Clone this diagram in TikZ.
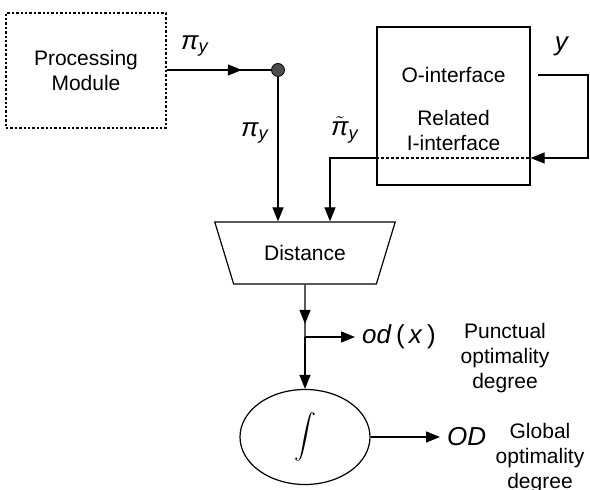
\documentclass[tikz,border=0pt]{standalone}
\usepackage{amsmath}
\usepackage{fontspec}
\setmainfont{Liberation Sans}
\usetikzlibrary{
  arrows.meta,
  shapes.geometric,
  positioning,
  calc,
  decorations.markings
}
\tikzset{
  blk/.style={
    draw, line width=0.6pt, font=\fontsize{10.5}{12.5}\selectfont,
    align=center, inner sep=0pt
  },
  pmbox/.style={blk, dash pattern=on 1.2pt off 1pt, minimum width=80pt, minimum height=57.5pt},
  ifbox/.style={blk, minimum width=76.5pt, minimum height=79pt},
  distnode/.style={blk, trapezium, shape border rotate=180, trapezium angle=55,
    trapezium stretches=true, minimum width=90.5pt, minimum height=31pt},
  integnode/.style={blk, ellipse, minimum width=65pt, minimum height=47.5pt},
  junction/.style={circle, draw, fill=black!70, inner sep=0pt, minimum size=6.5pt},
  conn/.style={line width=0.6pt},
  tip/.style={-{Triangle[length=7pt, width=5.5pt]}},
  midtip/.style={postaction={decorate}, decoration={markings,
    mark=at position #1 with {\arrow{Triangle[length=7pt, width=5.5pt]}}}},
  sym/.style={font=\fontsize{13}{15}\selectfont},
  note/.style={font=\fontsize{10.5}{12.5}\selectfont, align=center}
}
\begin{document}
\begin{tikzpicture}[x=0.5pt, y=-0.5pt]
  \useasboundingbox (0,0) rectangle (590,490);
  % blocks
  \node[pmbox] (pm) at (86,70.5) {Processing\\Module};
  \node[junction] (dot) at (278,70) {};
  \node[ifbox] (obox) at (453.5,106) {};
  \node[note] (oint) at (453.5,75) {O-interface};
  \node[note] (rint) at (453.5,131) {Related\\I-interface};
  \node[distnode] (dist) at (305,253) {Distance};
  \node[integnode] (integ) at (305,437) {$\displaystyle\int$};
  \coordinate (tbend) at (330,158);
  \coordinate (yout) at (588,75);
  \coordinate (br) at (305,337);
  % labels
  \node[sym] (piyh) at (195,46) {$\textit{π}_{\textit{y}}$};
  \node[sym] (piyv) at (255,133) {$\textit{π}_{\textit{y}}$};
  \node[sym, inner sep=1pt] (piyt) at (345,130) {$\tilde{\textit{π}}_{\textit{y}}$};
  \node[sym] (ylbl) at (562,46) {\textit{y}};
  \node[sym, anchor=west] (od) at (355,337) {\textit{od}\,(\,\textit{x}\,)};
  \node[sym, anchor=west] (odg) at (440,437) {\textit{OD}};
  \node[note] (pnote) at (505,358) {Punctual\\optimality\\degree};
  \node[note] (gnote) at (540,458) {Global\\optimality\\degree};
  % connectors
  \draw[conn, midtip=0.72] (pm.east |- dot) -- (dot);
  \draw[conn, tip] (dot) -- (dot |- dist.north);
  \draw[conn, dash pattern=on 1.5pt off 1pt] (obox.west |- tbend) -- (obox.east |- tbend);
  \draw[conn, tip] (obox.west |- tbend) -- (tbend) -- (tbend |- dist.north);
  \draw[conn, tip] ($(obox.east |- oint)+(7,0)$) -- (yout) |- (obox.east |- tbend);
  \draw[conn, midtip=0.75] (dist.south) -- (br);
  \draw[conn, tip] (br) -- (integ.north);
  \draw[conn, tip] (br) -- (od.west);
  \draw[conn, tip] (integ.east) -- (odg.west);
\end{tikzpicture}
\end{document}
